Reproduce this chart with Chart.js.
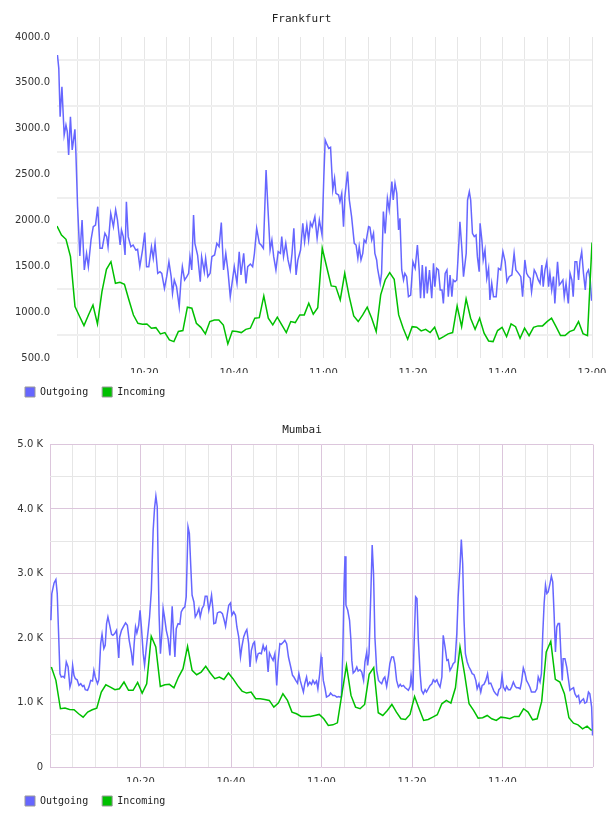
<!DOCTYPE html>
<html>
<head>
<meta charset="utf-8">
<title>Traffic</title>
<script src="https://cdn.jsdelivr.net/npm/chart.js@4.4.1/dist/chart.umd.min.js"></script>
<style>
  html, body { margin: 0; background: #fff; overflow: hidden; }
  canvas { display: block; }
</style>
</head>
<body>
<!-- the Frankfurt canvas is a little wider than the window so its 12:00 label gets cut at the edge -->
<canvas id="frankfurt_plot" width="622" height="407"></canvas>
<canvas id="mumbai_plot" width="608" height="409"></canvas>
<script>
// time axis: minutes after 10:00
const frankfurtOutTimes = [
  0.6, 0.9, 1.2, 1.6, 2.1, 2.5, 2.8, 3.1, 3.5, 3.9,
  4.5, 4.7, 5.1, 5.6, 6.1, 6.6, 7.1, 7.5, 8.1, 8.6,
  9.1, 9.6, 10.1, 10.6, 11.2, 11.6, 11.9, 12.5, 13.1, 13.6,
  14.0, 14.6, 14.9, 15.3, 15.7, 16.0, 16.4, 17.0, 17.5, 18.1,
  18.5, 19.0, 19.6, 20.1, 20.5, 21.0, 21.6, 22.0, 22.4, 23.0,
  23.5, 23.9, 24.5, 25.0, 25.5, 26.0, 26.3, 26.7, 27.2, 27.8,
  28.2, 28.5, 29.0, 29.5, 29.9, 30.2, 30.6, 31.0, 31.3, 31.9,
  32.5, 32.8, 33.4, 33.7, 34.2, 34.7, 35.1, 35.7, 36.2, 36.7,
  37.2, 37.7, 38.2, 38.7, 39.2, 39.7, 40.1, 40.7, 41.2, 41.6,
  42.2, 42.7, 43.1, 43.7, 44.2, 44.6, 45.1, 45.7, 46.1, 46.6,
  47.2, 47.6, 48.1, 48.5, 48.9, 49.4, 49.9, 50.4, 50.7, 51.1,
  51.6, 52.1, 52.6, 53.0, 53.4, 53.9, 54.3, 54.9, 55.4, 55.8,
  56.3, 56.7, 57.1, 57.5, 58.1, 58.6, 59.1, 59.7, 60.1, 60.4,
  60.7, 61.2, 61.6, 62.1, 62.5, 62.8, 63.4, 63.7, 64.1, 64.5,
  64.8, 65.4, 65.8, 66.3, 66.9, 67.3, 67.7, 68.0, 68.4, 68.8,
  69.1, 69.5, 70.1, 70.4, 70.8, 71.2, 71.5, 71.9, 72.1, 72.7,
  73.0, 73.4, 73.8, 74.3, 74.7, 75.3, 75.6, 76.0, 76.4, 76.8,
  77.1, 77.5, 77.9, 78.2, 78.6, 79.0, 79.5, 80.0, 80.5, 81.0,
  81.4, 81.7, 82.1, 82.5, 82.9, 83.2, 83.7, 84.2, 84.6, 84.9,
  85.3, 85.7, 86.1, 86.5, 86.8, 87.2, 87.6, 87.9, 88.3, 88.7,
  89.0, 89.4, 89.8, 90.2, 90.5, 90.9, 91.3, 91.9, 92.2, 92.6,
  92.9, 93.3, 93.7, 94.1, 94.4, 94.8, 95.0, 95.4, 95.7, 96.1,
  96.5, 96.9, 97.2, 97.6, 98.0, 98.6, 99.1, 99.6, 100.1, 100.6,
  101.0, 101.5, 102.1, 102.6, 103.0, 103.6, 104.1, 104.5, 105.0, 105.4,
  105.8, 106.2, 106.5, 107.1, 107.5, 108.0, 108.4, 108.8, 109.1, 109.5,
  109.9, 110.3, 110.6, 111.0, 111.4, 111.7, 112.3, 112.7, 113.0, 113.5,
  113.8, 114.2, 114.7, 115.1, 115.5, 115.8, 116.2, 116.6, 117.0, 117.3,
  117.7, 118.1, 118.5, 118.8, 119.2, 119.6, 119.9, 120.0
];
const frankfurtOutgoing = [
  3803, 3658, 3131, 3458, 2931, 3040, 2968, 2713, 3131, 2768,
  2993, 2768, 2150, 1612, 2005, 1460, 1641, 1496, 1787, 1932,
  1950, 2150, 1696, 1696, 1859, 1823, 1714, 2077, 1932, 2114,
  2005, 1732, 1896, 1823, 1623, 2204, 1823, 1714, 1732, 1677,
  1685, 1496, 1677, 1867, 1496, 1496, 1714, 1587, 1750, 1423,
  1441, 1423, 1260, 1387, 1550, 1387, 1205, 1351, 1278, 1060,
  1351, 1496, 1351, 1387, 1423, 1605, 1460, 2059, 1750, 1623,
  1332, 1605, 1441, 1587, 1387, 1423, 1605, 1623, 1750, 1714,
  1976, 1460, 1641, 1441, 1169, 1351, 1496, 1314, 1659, 1405,
  1641, 1314, 1496, 1525, 1496, 1641, 1914, 1750, 1732, 1696,
  2550, 2150, 1677, 1787, 1605, 1460, 1659, 1641, 1823, 1605,
  1750, 1569, 1460, 1641, 1914, 1405, 1569, 1677, 1968, 1768,
  1950, 1787, 1976, 1932, 2041, 1805, 2005, 1841, 2477, 2877,
  2840, 2786, 2797, 2332, 2459, 2295, 2277, 2205, 2295, 1932,
  2259, 2532, 2223, 2041, 1750, 1732, 1587, 1714, 1569, 1641,
  1787, 1758, 1932, 1925, 1787, 1859, 1641, 1569, 1478, 1314,
  1423, 2096, 1859, 2241, 2114, 2423, 2223, 2404, 2295, 1896,
  2023, 1460, 1351, 1423, 1387, 1169, 1187, 1550, 1478, 1732,
  1460, 1151, 1514, 1151, 1496, 1205, 1460, 1151, 1532, 1278,
  1478, 1460, 1242, 1242, 1096, 1423, 1460, 1169, 1405, 1169,
  1351, 1332, 1351, 1696, 1986, 1714, 1387, 1641, 2223, 2314,
  2223, 1859, 1823, 1841, 1605, 1441, 1968, 1787, 1569, 1677,
  1369, 1478, 1133, 1314, 1169, 1169, 1478, 1460, 1659, 1550,
  1332, 1387, 1405, 1641, 1460, 1423, 1387, 1169, 1569, 1423,
  1387, 1369, 1223, 1460, 1423, 1351, 1314, 1514, 1278, 1460,
  1550, 1278, 1423, 1242, 1387, 1096, 1550, 1296, 1314, 1351,
  1169, 1314, 1096, 1423, 1351, 1169, 1550, 1550, 1351, 1550,
  1659, 1423, 1242, 1423, 1460, 1351, 1133, 1133
];
// one sample per minute, 10:00:30 .. 12:00
const frankfurtIncoming = [
  1939, 1841, 1794, 1605, 1060, 955, 853, 969, 1078, 871,
  1223, 1467, 1550, 1314, 1325, 1303, 1133, 969, 878, 867,
  871, 824, 831, 762, 777, 697, 679, 790, 799, 1054,
  1043, 879, 834, 763, 897, 914, 915, 860, 654, 795,
  790, 777, 812, 825, 934, 940, 1177, 934, 861, 945,
  860, 777, 897, 886, 970, 970, 1097, 977, 1049, 1697,
  1490, 1286, 1279, 1133, 1424, 1170, 959, 897, 970, 1054,
  934, 788, 1188, 1351, 1431, 1359, 970, 825, 705, 842,
  835, 795, 813, 777, 835, 705, 733, 763, 777, 1068,
  842, 1144, 934, 813, 934, 770, 686, 679, 799, 835,
  733, 872, 842, 716, 825, 744, 835, 850, 850, 897,
  934, 842, 744, 744, 788, 806, 897, 766, 744, 1758
];

const mumbaiOutTimes = [
  0.2, 0.4, 0.9, 1.3, 1.6, 1.9, 2.2, 2.5, 2.9, 3.2,
  3.6, 4.0, 4.4, 4.7, 5.0, 5.3, 5.6, 6.0, 6.4, 6.8,
  7.2, 7.5, 7.8, 8.3, 8.6, 9.0, 9.4, 9.7, 10.0, 10.5,
  10.8, 11.2, 11.5, 11.9, 12.2, 12.5, 12.8, 13.2, 13.6, 13.9,
  14.3, 14.7, 15.2, 15.4, 15.8, 16.2, 16.7, 17.1, 17.5, 18.0,
  18.3, 18.6, 18.9, 19.2, 19.6, 19.9, 20.2, 20.6, 20.9, 21.3,
  21.7, 22.0, 22.4, 22.8, 23.1, 23.4, 23.7, 23.9, 24.1, 24.4,
  24.8, 25.0, 25.3, 25.7, 26.1, 26.5, 26.8, 27.0, 27.3, 27.6,
  27.9, 28.3, 28.7, 29.0, 29.4, 29.8, 30.1, 30.5, 30.8, 31.1,
  31.4, 31.8, 32.1, 32.5, 32.9, 33.2, 33.6, 34.0, 34.3, 34.7,
  35.1, 35.4, 35.7, 36.0, 36.2, 36.6, 37.0, 37.4, 37.7, 38.1,
  38.5, 38.8, 39.2, 39.5, 39.9, 40.2, 40.6, 41.0, 41.3, 41.7,
  42.1, 42.4, 42.8, 43.2, 43.5, 43.9, 44.2, 44.5, 44.9, 45.2,
  45.6, 46.0, 46.3, 46.7, 47.1, 47.4, 47.8, 48.2, 48.5, 48.9,
  49.3, 49.7, 50.1, 50.4, 50.8, 51.1, 51.6, 51.9, 52.3, 52.7,
  53.2, 53.6, 53.9, 54.3, 54.7, 55.0, 55.3, 55.7, 56.0, 56.3,
  56.7, 57.0, 57.4, 57.8, 58.1, 58.5, 58.9, 59.2, 59.6, 59.9,
  60.1, 60.4, 60.8, 61.1, 61.7, 62.0, 62.5, 62.9, 63.4, 63.8,
  64.1, 64.4, 64.7, 65.0, 65.2, 65.4, 65.8, 66.2, 66.5, 66.7,
  67.0, 67.4, 67.8, 68.1, 68.5, 68.9, 69.3, 69.6, 70.0, 70.2,
  70.5, 70.9, 71.2, 71.5, 71.8, 72.2, 72.6, 72.9, 73.3, 73.7,
  74.0, 74.4, 74.8, 75.1, 75.5, 75.9, 76.2, 76.6, 77.0, 77.4,
  77.7, 78.1, 78.5, 78.8, 79.2, 79.6, 79.8, 80.2, 80.4, 80.8,
  81.1, 81.4, 81.8, 82.1, 82.5, 82.9, 83.2, 83.6, 84.0, 84.4,
  84.7, 85.1, 85.5, 85.8, 86.2, 86.6, 86.9, 87.3, 87.7, 88.0,
  88.4, 88.8, 89.1, 89.5, 89.9, 90.2, 90.6, 90.9, 91.2, 91.5,
  91.8, 92.2, 92.6, 93.0, 93.3, 93.7, 94.1, 94.4, 94.8, 95.2,
  95.5, 95.9, 96.3, 96.7, 97.0, 97.4, 97.8, 98.1, 98.5, 98.9,
  99.2, 99.6, 99.9, 100.2, 100.6, 100.9, 101.3, 101.7, 102.0, 102.4,
  102.8, 103.1, 103.5, 103.9, 104.2, 104.6, 105.0, 105.3, 105.7, 106.1,
  106.4, 106.8, 107.2, 107.6, 107.9, 108.3, 108.6, 108.9, 109.2, 109.5,
  109.8, 110.1, 110.5, 110.8, 111.1, 111.4, 111.7, 112.0, 112.3, 112.6,
  112.9, 113.2, 113.4, 113.8, 114.2, 114.6, 114.9, 115.3, 115.7, 116.0,
  116.4, 116.8, 117.1, 117.5, 117.9, 118.2, 118.6, 119.0, 119.3, 119.7,
  119.9
];
const mumbaiOutgoing = [
  2275, 2689, 2854, 2906, 2689, 2068, 1446, 1395, 1405, 1384,
  1628, 1550, 1239, 1317, 1576, 1421, 1369, 1353, 1265, 1291,
  1250, 1265, 1198, 1188, 1239, 1343, 1333, 1498, 1395, 1291,
  1353, 1912, 2057, 1835, 1886, 2223, 2326, 2197, 2057, 2042,
  2068, 2119, 1690, 2016, 2119, 2171, 2233, 2197, 1964, 1767,
  1576, 1912, 2171, 2078, 2197, 2430, 2171, 1757, 1576, 1861,
  2119, 2326, 2741, 3672, 4009, 4201, 4035, 3155, 2378, 1757,
  2145, 2456, 2326, 2119, 1990, 1731, 2197, 2492, 2068, 1705,
  2145, 2223, 2213, 2404, 2456, 2482, 2637, 3724, 3621, 3129,
  2663, 2559, 2326, 2378, 2456, 2326, 2456, 2508, 2648, 2648,
  2430, 2534, 2663, 2456, 2223, 2233, 2389, 2404, 2404, 2378,
  2275, 2181, 2378, 2508, 2544, 2352, 2404, 2352, 2171, 2016,
  1705, 1861, 2016, 2093, 2130, 1912, 1550, 1809, 1912, 1938,
  1653, 1757, 1767, 1757, 1886, 1809, 1861, 1472, 1767, 1705,
  1653, 1757, 1265, 1628, 1912, 1902, 1938, 1964, 1912, 1705,
  1550, 1421, 1395, 1343, 1301, 1446, 1343, 1239, 1162, 1291,
  1395, 1265, 1317, 1281, 1343, 1291, 1333, 1213, 1446, 1705,
  1628, 1343, 1213, 1084, 1110, 1146, 1110, 1110, 1084, 1094,
  1084, 1094, 1757, 2844, 3269, 2508, 2430, 2275, 1964, 1653,
  1457, 1488, 1550, 1488, 1508, 1472, 1343, 1628, 1783, 1576,
  1757, 2689, 3440, 3000, 2016, 1498, 1343, 1317, 1291, 1369,
  1395, 1250, 1421, 1602, 1705, 1705, 1602, 1343, 1239, 1281,
  1250, 1265, 1229, 1213, 1188, 1250, 1421, 1188, 1757, 2637,
  2611, 1964, 1446, 1188, 1136, 1198, 1162, 1213, 1265, 1291,
  1353, 1317, 1353, 1291, 1239, 1395, 2042, 1861, 1653, 1664,
  1498, 1550, 1602, 1628, 2068, 2637, 3103, 3528, 3155, 2275,
  1757, 1628, 1550, 1498, 1446, 1431, 1343, 1213, 1291, 1162,
  1265, 1281, 1343, 1446, 1291, 1301, 1229, 1177, 1136, 1110,
  1198, 1229, 1421, 1239, 1188, 1250, 1198, 1198, 1239, 1317,
  1250, 1229, 1229, 1213, 1317, 1534, 1446, 1343, 1291, 1229,
  1162, 1162, 1162, 1213, 1395, 1317, 1446, 2068, 2534, 2818,
  2689, 2715, 2844, 2958, 2870, 2378, 1783, 2171, 2223, 2223,
  1757, 1343, 1679, 1679, 1550, 1343, 1188, 1213, 1229, 1136,
  1084, 1110, 991, 1032, 1058, 991, 1007, 1162, 1136, 929,
  489
];
// one sample per minute, 10:00 .. 11:59
const mumbaiIncoming = [
  1550, 1343, 903, 913, 892, 887, 825, 773, 851, 887,
  913, 1162, 1275, 1239, 1198, 1213, 1317, 1188, 1188, 1312,
  1146, 1291, 2026, 1861, 1250, 1275, 1281, 1229, 1395, 1524,
  1871, 1498, 1431, 1472, 1560, 1457, 1369, 1395, 1358, 1457,
  1369, 1265, 1177, 1146, 1162, 1058, 1058, 1048, 1032, 929,
  991, 1136, 1032, 851, 825, 784, 784, 784, 799, 815,
  748, 644, 654, 685, 1136, 1576, 1110, 929, 903, 970,
  1436, 1540, 841, 799, 877, 970, 851, 748, 737, 815,
  1094, 903, 722, 737, 773, 810, 980, 1032, 991, 1229,
  1861, 1446, 980, 877, 758, 763, 799, 748, 722, 773,
  763, 748, 784, 784, 903, 851, 732, 748, 1017, 1783,
  1949, 1358, 1317, 1136, 763, 680, 654, 592, 634, 565
];

const outgoingColor = '#6666ff';
const incomingColor = '#00c000';
const purpleGrid = '#dcc6dc';
const greyGrid = '#e6e6e6';
const tickFont = {family: "'DejaVu Sans', sans-serif", size: 10};
const monoFont = "'DejaVu Sans Mono', monospace";

function points(times, values) {
    return values.map((y, i) => ({x: times[i], y: y}));
}

function perMinute(first, last, values) {
    const step = (last - first) / (values.length - 1);
    return values.map((y, i) => ({x: first + i * step, y: y}));
}

function clock(v) {
    return (10 + Math.floor(v / 60)) + ':' + String(v % 60).padStart(2, '0');
}

function trafficChart(id, c) {
    return new Chart(document.getElementById(id).getContext('2d'), {
        type: 'line',
        data: {
            datasets: [{
                label: 'Outgoing',
                data: c.outgoing,
                borderColor: outgoingColor,
                borderWidth: 1.5,
                pointRadius: 0,
                order: 1
            }, {
                label: 'Incoming',
                data: c.incoming,
                borderColor: incomingColor,
                borderWidth: 1.5,
                pointRadius: 0,
                order: 0
            }]
        },
        options: {
            responsive: false,
            animation: false,
            layout: {
                padding: {left: 11, right: c.padRight, top: 0, bottom: 0}
            },
            plugins: {
                tooltip: {enabled: false},
                title: {
                    display: true,
                    text: c.title,
                    color: '#222',
                    font: {family: monoFont, size: 11, weight: 'normal'},
                    padding: c.titlePadding
                },
                legend: {
                    position: 'bottom',
                    align: 'start',
                    labels: {
                        boxWidth: 10,
                        boxHeight: 10,
                        padding: 14,
                        color: '#222',
                        font: {family: monoFont, size: 10},
                        // keep Outgoing first even though Incoming is drawn on top
                        generateLabels: chart => chart.data.datasets.map((ds, i) => ({
                            text: ds.label,
                            fillStyle: ds.borderColor,
                            strokeStyle: '#999',
                            lineWidth: 1,
                            fontColor: '#222',
                            hidden: false,
                            datasetIndex: i
                        }))
                    }
                }
            },
            scales: {
                x: {
                    type: 'linear',
                    min: c.xMin,
                    max: 120,
                    border: {display: false},
                    grid: {color: c.xGrid, lineWidth: 1, drawTicks: false},
                    ticks: {
                        stepSize: 5,
                        includeBounds: false,
                        autoSkip: false,
                        maxRotation: 0,
                        minRotation: 0,
                        padding: 9,
                        color: '#333',
                        font: tickFont,
                        callback: v => (v % 20 === 0 && v > 0 && v <= c.lastLabel) ? clock(v) : ''
                    },
                    afterFit: s => { s.height = 15; }
                },
                y: {
                    min: c.yMin,
                    max: c.yMax,
                    border: {display: false},
                    grid: {color: c.yGrid, lineWidth: c.yGridWidth, drawTicks: false},
                    ticks: {
                        stepSize: c.yStep,
                        autoSkip: false,
                        padding: 7,
                        color: '#333',
                        font: tickFont,
                        callback: c.yLabel
                    },
                    afterFit: s => { s.width = c.yWidth; }
                }
            }
        }
    });
}

trafficChart('frankfurt_plot', {
    title: 'Frankfurt',
    titlePadding: {top: 13, bottom: 10.8},
    padRight: 30,
    outgoing: points(frankfurtOutTimes, frankfurtOutgoing),
    incoming: perMinute(0.5, 120, frankfurtIncoming),
    xMin: 0.5,
    lastLabel: 120,
    xGrid: '#e6e6e6',
    yMin: 500,
    yMax: 4000,
    yStep: 250,
    yWidth: 46,
    yGridWidth: 2,
    yGrid: ctx => ctx.tick.value % 500 === 0 ? 'rgba(0,0,0,0)' : '#efefef',
    yLabel: v => v % 500 === 0 ? v.toFixed(1) : ''
});

trafficChart('mumbai_plot', {
    title: 'Mumbai',
    titlePadding: {top: 16.4, bottom: 7.9},
    padRight: 15,
    outgoing: points(mumbaiOutTimes, mumbaiOutgoing),
    incoming: perMinute(0.3, 119.7, mumbaiIncoming),
    xMin: 0,
    lastLabel: 100,
    xGrid: ctx => ctx.tick.value % 20 === 0 ? purpleGrid : greyGrid,
    yMin: 0,
    yMax: 5000,
    yStep: 500,
    yWidth: 39,
    yGridWidth: 1,
    yGrid: ctx => ctx.tick.value % 1000 === 0 ? purpleGrid : greyGrid,
    yLabel: v => v % 1000 === 0 ? (v === 0 ? '0' : (v / 1000).toFixed(1) + ' K') : ''
});
</script>
</body>
</html>
